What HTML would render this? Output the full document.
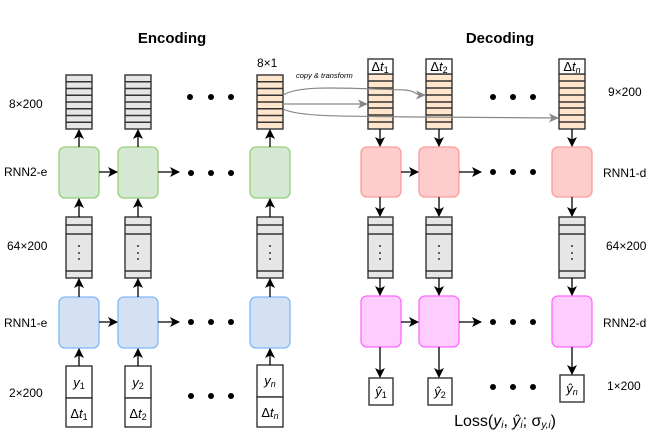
<!DOCTYPE html>
<html><head><meta charset="utf-8"><style>
html,body{margin:0;padding:0;background:#fff;}
svg{display:block;font-family:"Liberation Sans",sans-serif;}
</style></head><body>
<svg width="654" height="438" viewBox="0 0 654 438" xmlns="http://www.w3.org/2000/svg">
<defs>
<marker id="a" markerWidth="10" markerHeight="10" refX="9" refY="5" orient="auto" markerUnits="userSpaceOnUse"><path d="M0,0 L10,5 L0,10 L2.5,5 Z" fill="#000"/></marker>
<marker id="g" markerWidth="10" markerHeight="9" refX="9" refY="4.5" orient="auto" markerUnits="userSpaceOnUse"><path d="M0,0 L10,4.5 L0,9 L2.5,4.5 Z" fill="#888"/></marker>
</defs>
<text x="172" y="43" font-size="15" font-weight="bold" text-anchor="middle">Encoding</text>
<text x="500" y="43" font-size="15" font-weight="bold" text-anchor="middle">Decoding</text>
<g font-size="12">
<text x="9" y="108">8×200</text>
<text x="4" y="176">RNN2-e</text>
<text x="7" y="250">64×200</text>
<text x="4" y="327">RNN1-e</text>
<text x="9" y="397">2×200</text>
<text x="608" y="96">9×200</text>
<text x="603" y="177">RNN1-d</text>
<text x="606" y="250">64×200</text>
<text x="603" y="327">RNN2-d</text>
<text x="607" y="390">1×200</text>
<text x="257" y="67">8×1</text>
</g>
<text x="296" y="78" font-size="7.5" font-style="italic">copy &amp; transform</text>
<g stroke="#333" stroke-width="1.4">
<g fill="#e6e6e6">
<rect x="66" y="75" width="26" height="54"/><rect x="125" y="75" width="26" height="54"/>
</g>
<rect x="257" y="75" width="26" height="54" fill="#ffe6cc"/>
<g fill="#ffe6cc">
<rect x="368" y="74" width="25" height="55"/><rect x="426" y="74" width="26" height="55"/><rect x="559" y="74" width="26" height="55"/>
</g>
<g fill="#fff">
<rect x="368" y="59" width="25" height="15"/><rect x="426" y="59" width="26" height="15"/><rect x="559" y="59" width="26" height="15"/>
</g>
<path fill="none" d="
M66,81.75H92M66,88.5H92M66,95.25H92M66,102H92M66,108.75H92M66,115.5H92M66,122.25H92
M125,81.75H151M125,88.5H151M125,95.25H151M125,102H151M125,108.75H151M125,115.5H151M125,122.25H151
M257,81.75H283M257,88.5H283M257,95.25H283M257,102H283M257,108.75H283M257,115.5H283M257,122.25H283
M368,81H393M368,88H393M368,95H393M368,102H393M368,108H393M368,115H393M368,122H393
M426,81H452M426,88H452M426,95H452M426,102H452M426,108H452M426,115H452M426,122H452
M559,81H585M559,88H585M559,95H585M559,102H585M559,108H585M559,115H585M559,122H585"/>
<g fill="#e6e6e6">
<rect x="66" y="217" width="26" height="61"/><rect x="125" y="217" width="26" height="61"/><rect x="257" y="217" width="26" height="61"/>
<rect x="368" y="217" width="25" height="61"/><rect x="426" y="217" width="26" height="61"/><rect x="559" y="217" width="26" height="61"/>
</g>
<path fill="none" d="M66,225H92M66,234H92M66,271H92M125,225H151M125,234H151M125,271H151M257,225H283M257,234H283M257,271H283
M368,225H393M368,234H393M368,271H393M426,225H452M426,234H452M426,271H452M559,225H585M559,234H585M559,271H585"/>
<g fill="#fff">
<rect x="66" y="366" width="26" height="32"/><rect x="66" y="398" width="26" height="29"/>
<rect x="125" y="366" width="26" height="32"/><rect x="125" y="398" width="26" height="29"/>
<rect x="257" y="365" width="26" height="32"/><rect x="257" y="397" width="26" height="30"/>
<rect x="369" y="378" width="24" height="27"/><rect x="428" y="378" width="24" height="27"/><rect x="560" y="375" width="24" height="27"/>
</g>
</g>
<g fill="#333">
<circle cx="79" cy="246" r="1"/><circle cx="79" cy="253" r="1"/><circle cx="79" cy="259" r="1"/>
<circle cx="138" cy="246" r="1"/><circle cx="138" cy="253" r="1"/><circle cx="138" cy="259" r="1"/>
<circle cx="270" cy="246" r="1"/><circle cx="270" cy="253" r="1"/><circle cx="270" cy="259" r="1"/>
<circle cx="380" cy="246" r="1"/><circle cx="380" cy="253" r="1"/><circle cx="380" cy="259" r="1"/>
<circle cx="439" cy="246" r="1"/><circle cx="439" cy="253" r="1"/><circle cx="439" cy="259" r="1"/>
<circle cx="572" cy="246" r="1"/><circle cx="572" cy="253" r="1"/><circle cx="572" cy="259" r="1"/>
</g>
<g stroke="#97d077" fill="#d5e8d4" stroke-width="1.3">
<rect x="59" y="147" width="40" height="51" rx="6"/><rect x="118" y="147" width="40" height="51" rx="6"/><rect x="250" y="147" width="40" height="51" rx="6"/>
</g>
<g stroke="#7eb8f5" fill="#d4e1f5" stroke-width="1.3">
<rect x="59" y="297" width="40" height="51" rx="6"/><rect x="118" y="297" width="40" height="51" rx="6"/><rect x="250" y="297" width="40" height="51" rx="6"/>
</g>
<g stroke="#ff9999" fill="#ffcccc" stroke-width="1.3">
<rect x="361" y="147" width="40" height="50" rx="6"/><rect x="419" y="147" width="40" height="50" rx="6"/><rect x="552" y="147" width="40" height="50" rx="6"/>
</g>
<g stroke="#ff66ff" fill="#ffccff" stroke-width="1.3">
<rect x="361" y="296" width="40" height="51" rx="6"/><rect x="419" y="296" width="40" height="51" rx="6"/><rect x="552" y="296" width="40" height="51" rx="6"/>
</g>
<g stroke="#000" stroke-width="1.3" marker-end="url(#a)">
<path d="M79,147V130"/><path d="M138,147V130"/><path d="M270,147V130"/>
<path d="M79,217V199"/><path d="M138,217V199"/><path d="M270,217V199"/>
<path d="M79,297V279"/><path d="M138,297V279"/><path d="M270,297V279"/>
<path d="M79,366V349"/><path d="M138,366V349"/><path d="M270,365V349"/>
<path d="M99,172H117"/><path d="M158,172H179"/>
<path d="M99,322H117"/><path d="M158,322H179"/>
<path d="M380,129V146"/><path d="M439,129V146"/><path d="M572,129V146"/>
<path d="M380,197V216"/><path d="M439,197V216"/><path d="M572,197V216"/>
<path d="M380,278V295"/><path d="M439,278V295"/><path d="M572,278V295"/>
<path d="M380,347V377"/><path d="M439,347V377"/><path d="M572,347V374"/>
<path d="M401,172H418"/><path d="M459,172H481"/>
<path d="M401,322H418"/><path d="M459,322H481"/>
</g>
<g stroke="#888" stroke-width="1.2" fill="none" marker-end="url(#g)">
<path d="M283,95C300,85 340,88 405,90C418,91 412,95 425,95"/>
<path d="M283,104H367"/>
<path d="M283,109C300,117 340,116 420,117L558,118"/>
</g>
<g fill="#000">
<circle cx="190" cy="97" r="3"/><circle cx="211" cy="97" r="3"/><circle cx="231" cy="97" r="3"/>
<circle cx="191" cy="173" r="3"/><circle cx="211" cy="173" r="3"/><circle cx="231" cy="173" r="3"/>
<circle cx="191" cy="322" r="3"/><circle cx="211" cy="322" r="3"/><circle cx="231" cy="322" r="3"/>
<circle cx="191" cy="396" r="3"/><circle cx="211" cy="396" r="3"/><circle cx="231" cy="396" r="3"/>
<circle cx="493" cy="97" r="3"/><circle cx="513" cy="97" r="3"/><circle cx="533" cy="97" r="3"/>
<circle cx="493" cy="172" r="3"/><circle cx="513" cy="172" r="3"/><circle cx="533" cy="172" r="3"/>
<circle cx="493" cy="322" r="3"/><circle cx="513" cy="322" r="3"/><circle cx="533" cy="322" r="3"/>
<circle cx="493" cy="387" r="3"/><circle cx="513" cy="387" r="3"/><circle cx="533" cy="387" r="3"/>
</g>
<g font-size="13" text-anchor="middle">
<text x="380" y="71">Δ<tspan font-style="italic">t</tspan><tspan font-size="9" dy="2">1</tspan></text>
<text x="439" y="71">Δ<tspan font-style="italic">t</tspan><tspan font-size="9" dy="2">2</tspan></text>
<text x="572" y="71">Δ<tspan font-style="italic">t</tspan><tspan font-size="9" dy="2" font-style="italic">n</tspan></text>
<text x="79" y="387"><tspan font-style="italic">y</tspan><tspan font-size="9" dy="2">1</tspan></text>
<text x="138" y="387"><tspan font-style="italic">y</tspan><tspan font-size="9" dy="2">2</tspan></text>
<text x="270" y="385"><tspan font-style="italic">y</tspan><tspan font-size="9" dy="2" font-style="italic">n</tspan></text>
<text x="79" y="418">Δ<tspan font-style="italic">t</tspan><tspan font-size="9" dy="2">1</tspan></text>
<text x="138" y="418">Δ<tspan font-style="italic">t</tspan><tspan font-size="9" dy="2">2</tspan></text>
<text x="270" y="417">Δ<tspan font-style="italic">t</tspan><tspan font-size="9" dy="2" font-style="italic">n</tspan></text>
<text x="381" y="396"><tspan font-style="italic">ŷ</tspan><tspan font-size="9" dy="2">1</tspan></text>
<text x="440" y="396"><tspan font-style="italic">ŷ</tspan><tspan font-size="9" dy="2">2</tspan></text>
<text x="572" y="393"><tspan font-style="italic">ŷ</tspan><tspan font-size="9" dy="2" font-style="italic">n</tspan></text>
</g>
<text x="505" y="426" font-size="16" text-anchor="middle">Loss(<tspan font-style="italic">y</tspan><tspan font-size="10" dy="2" font-style="italic">i</tspan><tspan dy="-2">, </tspan><tspan font-style="italic">ŷ</tspan><tspan font-size="10" dy="2" font-style="italic">i</tspan><tspan dy="-2">; σ</tspan><tspan font-size="10" dy="2" font-style="italic">y,i</tspan><tspan dy="-2">)</tspan></text>
</svg>
</body></html>
